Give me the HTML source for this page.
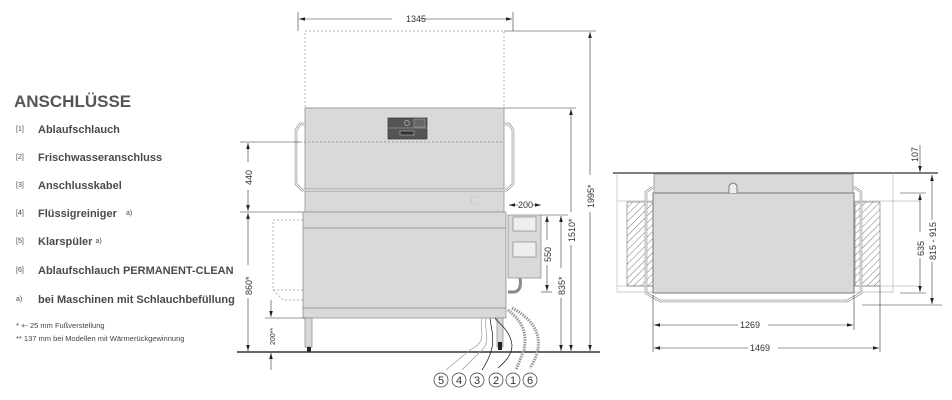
<!DOCTYPE html>
<html><head><meta charset="utf-8"><style>
body{margin:0;background:#fff;width:952px;height:400px;overflow:hidden;font-family:"Liberation Sans",sans-serif}
.t{position:absolute;color:#444}
.i{position:absolute;left:16px;font-size:11px;color:#4a4a4a;font-weight:bold;white-space:nowrap;line-height:14px}
.i span{font-size:7px;display:inline-block;width:22px;font-weight:normal;vertical-align:top}
.i i{font-style:normal;font-size:7px;font-weight:normal;vertical-align:top}
</style></head><body>
<div class="t" style="left:14px;top:92px;font-size:17px;font-weight:bold;color:#555">ANSCHLÜSSE</div>
<div class="i" style="top:123px"><span>[1]</span>Ablaufschlauch</div>
<div class="i" style="top:151px"><span>[2]</span>Frischwasseranschluss</div>
<div class="i" style="top:179px"><span>[3]</span>Anschlusskabel</div>
<div class="i" style="top:207px"><span>[4]</span>Flüssigreiniger &nbsp;&nbsp;<i>a)</i></div>
<div class="i" style="top:235px"><span>[5]</span>Klarspüler <i>a)</i></div>
<div class="i" style="top:264px"><span>[6]</span>Ablaufschlauch PERMANENT-CLEAN</div>
<div class="i" style="top:293px"><span>a)</span>bei Maschinen mit Schlauchbefüllung</div>
<div class="t" style="left:16px;top:321px;font-size:7.5px">* +- 25 mm Fußverstellung</div>
<div class="t" style="left:16px;top:334px;font-size:7.5px">** 137 mm bei Modellen mit Wärmerückgewinnung</div>
<svg width="952" height="400" style="position:absolute;left:0;top:0" font-family="Liberation Sans,sans-serif" font-size="9" fill="none" stroke="#333" stroke-width="0.7">
<defs><marker id="a" viewBox="0 0 10 6" refX="10" refY="3" markerWidth="10" markerHeight="6" orient="auto-start-reverse"><path d="M0,0L10,3L0,6z" fill="#222" stroke="none"/></marker></defs>
<rect x="305" y="31" width="199" height="77" stroke="#999" stroke-dasharray="2,2"/>
<rect x="305" y="108" width="199" height="104" fill="#d9d9d9" stroke="#888"/>
<line x1="296" y1="142" x2="504" y2="142" stroke="#888" stroke-dasharray="2,2"/>
<path d="M305,124 H300 L296,130 V184 L302,190 H504" stroke="#888" stroke-width="2.5"/>
<path d="M305,124 H300 L296,130 V184 L302,190 H504" stroke="#fff" stroke-width="1.2"/>
<path d="M504,124 H509 L513,130 V184 L507,190 H305" stroke="#888" stroke-width="2.5"/>
<path d="M504,124 H509 L513,130 V184 L507,190 H305" stroke="#fff" stroke-width="1.2"/>
<rect x="388" y="118" width="39" height="21" fill="#555" stroke="#333"/>
<line x1="388" y1="128" x2="427" y2="128" stroke="#999"/>
<rect x="414" y="119" width="11" height="8" fill="#666" stroke="#999"/>
<circle cx="407" cy="123" r="2.5" stroke="#bbb"/>
<rect x="400" y="131" width="14" height="4" fill="#333" stroke="#aaa"/>
<rect x="273" y="220" width="34" height="70" stroke="#999" stroke-dasharray="2,2"/>
<path d="M273,290 L283,300 H307" stroke="#999" stroke-dasharray="2,2"/>
<rect x="303" y="212" width="203" height="96" fill="#d9d9d9" stroke="#888"/>
<line x1="303" y1="228" x2="506" y2="228" stroke="#888"/>
<rect x="303" y="308" width="203" height="10" fill="#d9d9d9" stroke="#888"/>
<rect x="305" y="318" width="7" height="29" fill="#d9d9d9" stroke="#888"/>
<rect x="307" y="347" width="4" height="5" fill="#222" stroke="none"/>
<rect x="497" y="318" width="6" height="29" fill="#d9d9d9" stroke="#888"/>
<rect x="498" y="342" width="4" height="8" fill="#222" stroke="none"/>
<rect x="508" y="215" width="33" height="63" fill="#d9d9d9" stroke="#888"/>
<rect x="513" y="217" width="23" height="14" fill="#eee" stroke="#888"/>
<rect x="513" y="242" width="23" height="15" fill="#eee" stroke="#888"/>
<path d="M520,278 Q522,290 515,292 H508" stroke="#888" stroke-width="3"/>
<line x1="237" y1="352" x2="600" y2="352" stroke="#333" stroke-width="1.5"/>
<path d="M482,318 C478,330 490,340 470,350 L446,370" stroke="#999"/>
<path d="M486,318 C484,332 492,342 480,352 L462,370" stroke="#999"/>
<path d="M490,318 C492,335 498,345 482,370" stroke="#111"/>
<path d="M495,318 C500,325 510,330 512,345 C512,355 505,362 498,368" stroke="#111"/>
<path d="M508,310 C520,320 528,330 524,350 L516,370" stroke="#999" stroke-width="3" stroke-dasharray="1.5,1"/>
<path d="M512,308 C535,320 548,340 530,368" stroke="#999" stroke-width="3" stroke-dasharray="1.5,1"/>
<g stroke="#333" stroke-width="0.7"><circle cx="441" cy="380" r="7"/><circle cx="459" cy="380" r="7"/><circle cx="477" cy="380" r="7"/><circle cx="496" cy="380" r="7"/><circle cx="513" cy="380" r="7"/><circle cx="530" cy="380" r="7"/></g>
<g fill="#333" stroke="none" font-size="11" text-anchor="middle"><text x="441" y="384">5</text><text x="459" y="384">4</text><text x="477" y="384">3</text><text x="496" y="384">2</text><text x="513" y="384">1</text><text x="530" y="384">6</text></g>
<g stroke="#333" stroke-width="0.6">
<line x1="298" y1="12" x2="298" y2="31"/><line x1="513" y1="12" x2="513" y2="31"/>
<line x1="299" y1="19" x2="392" y2="19" marker-start="url(#a)"/><line x1="420" y1="19" x2="512" y2="19" marker-end="url(#a)"/>
<line x1="240" y1="142" x2="300" y2="142"/><line x1="240" y1="212" x2="303" y2="212"/>
<line x1="248" y1="143" x2="248" y2="162" marker-start="url(#a)"/><line x1="248" y1="190" x2="248" y2="211" marker-end="url(#a)"/>
<line x1="248" y1="213" x2="248" y2="265" marker-start="url(#a)"/><line x1="248" y1="298" x2="248" y2="351" marker-end="url(#a)"/>
<line x1="265" y1="318" x2="305" y2="318"/>
<line x1="271" y1="300" x2="271" y2="317" marker-end="url(#a)"/><line x1="271" y1="370" x2="271" y2="353" marker-end="url(#a)"/>
<line x1="509" y1="205" x2="518" y2="205" marker-start="url(#a)"/><line x1="532" y1="205" x2="541" y2="205" marker-end="url(#a)"/>
<line x1="541" y1="215" x2="568" y2="215"/><line x1="541" y1="292" x2="552" y2="292"/>
<line x1="547" y1="216" x2="547" y2="240" marker-start="url(#a)"/><line x1="547" y1="265" x2="547" y2="291" marker-end="url(#a)"/>
<line x1="561" y1="216" x2="561" y2="268" marker-start="url(#a)"/><line x1="561" y1="298" x2="561" y2="351" marker-end="url(#a)"/>
<line x1="504" y1="108" x2="576" y2="108"/>
<line x1="571" y1="109" x2="571" y2="212" marker-start="url(#a)"/><line x1="571" y1="245" x2="571" y2="351" marker-end="url(#a)"/>
<line x1="504" y1="31" x2="596" y2="31"/>
<line x1="590" y1="32" x2="590" y2="175" marker-start="url(#a)"/><line x1="590" y1="212" x2="590" y2="351" marker-end="url(#a)"/>
</g>
<g fill="#333" stroke="none" font-size="9">
<text x="406" y="22">1345</text>
<text transform="translate(252,185) rotate(-90)">440</text>
<text transform="translate(252,295) rotate(-90)">860*</text>
<text transform="translate(275,345) rotate(-90)" font-size="7">200**</text>
<text x="518" y="208">200</text>
<text transform="translate(551,262) rotate(-90)">550</text>
<text transform="translate(565,295) rotate(-90)">835*</text>
<text transform="translate(575,242) rotate(-90)">1510*</text>
<text transform="translate(594,208) rotate(-90)">1995*</text>
<text x="470" y="205" fill="#ccc" font-size="14" font-family="Liberation Serif">G</text>
</g>
<line x1="613" y1="173" x2="938" y2="173" stroke="#333" stroke-width="1.3"/>
<path d="M617,173 V292 H653 M893,173 V292 H853" stroke="#bbb"/>
<line x1="617" y1="201" x2="653" y2="201" stroke="#bbb"/><line x1="853" y1="201" x2="920" y2="201" stroke="#bbb"/>
<line x1="617" y1="286" x2="653" y2="286" stroke="#bbb"/><line x1="853" y1="286" x2="920" y2="286" stroke="#bbb"/>
<pattern id="h" width="5" height="5" patternUnits="userSpaceOnUse" patternTransform="rotate(45)"><line x1="0" y1="0" x2="0" y2="5" stroke="#555" stroke-width="0.8"/></pattern>
<rect x="627" y="202" width="26" height="84" fill="url(#h)" stroke="#555" stroke-width="0.5"/>
<rect x="855" y="202" width="25" height="84" fill="url(#h)" stroke="#555" stroke-width="0.5"/>
<path d="M653,187 L646,192 V293 L660,301 H847 L861,293 V192 L854,187" stroke="#888" stroke-width="2.5"/>
<path d="M653,187 L646,192 V293 L660,301 H847 L861,293 V192 L854,187" stroke="#fff" stroke-width="1.2"/>
<rect x="654" y="174" width="199" height="19" fill="#d9d9d9" stroke="#888"/>
<rect x="653" y="193" width="201" height="100" fill="#d9d9d9" stroke="#777" stroke-width="1"/>
<path d="M729,193 V186 Q733,180 737,186 V193" fill="#eee" stroke="#555"/>
<g stroke="#333" stroke-width="0.6">
<line x1="653" y1="295" x2="653" y2="352"/><line x1="854" y1="295" x2="854" y2="330"/><line x1="880" y1="286" x2="880" y2="352"/>
<line x1="654" y1="325" x2="738" y2="325" marker-start="url(#a)"/><line x1="768" y1="325" x2="853" y2="325" marker-end="url(#a)"/>
<line x1="654" y1="348" x2="748" y2="348" marker-start="url(#a)"/><line x1="778" y1="348" x2="879" y2="348" marker-end="url(#a)"/>
<line x1="920" y1="194" x2="920" y2="232" marker-start="url(#a)"/><line x1="920" y1="258" x2="920" y2="292" marker-end="url(#a)"/>
<line x1="900" y1="193" x2="926" y2="193"/><line x1="900" y1="293" x2="926" y2="293"/>
<line x1="932" y1="175" x2="932" y2="220" marker-start="url(#a)"/><line x1="932" y1="262" x2="932" y2="304" marker-end="url(#a)"/>
<line x1="862" y1="305" x2="942" y2="305"/>
<line x1="920" y1="145" x2="920" y2="172" marker-end="url(#a)"/>
</g>
<g fill="#333" stroke="none" font-size="9">
<text x="740" y="328">1269</text><text x="750" y="351">1469</text>
<text transform="translate(924,256) rotate(-90)">635</text>
<text transform="translate(936,260) rotate(-90)">815 - 915</text>
<text transform="translate(918,162) rotate(-90)">107</text>
</g>
</svg>
</body></html>
